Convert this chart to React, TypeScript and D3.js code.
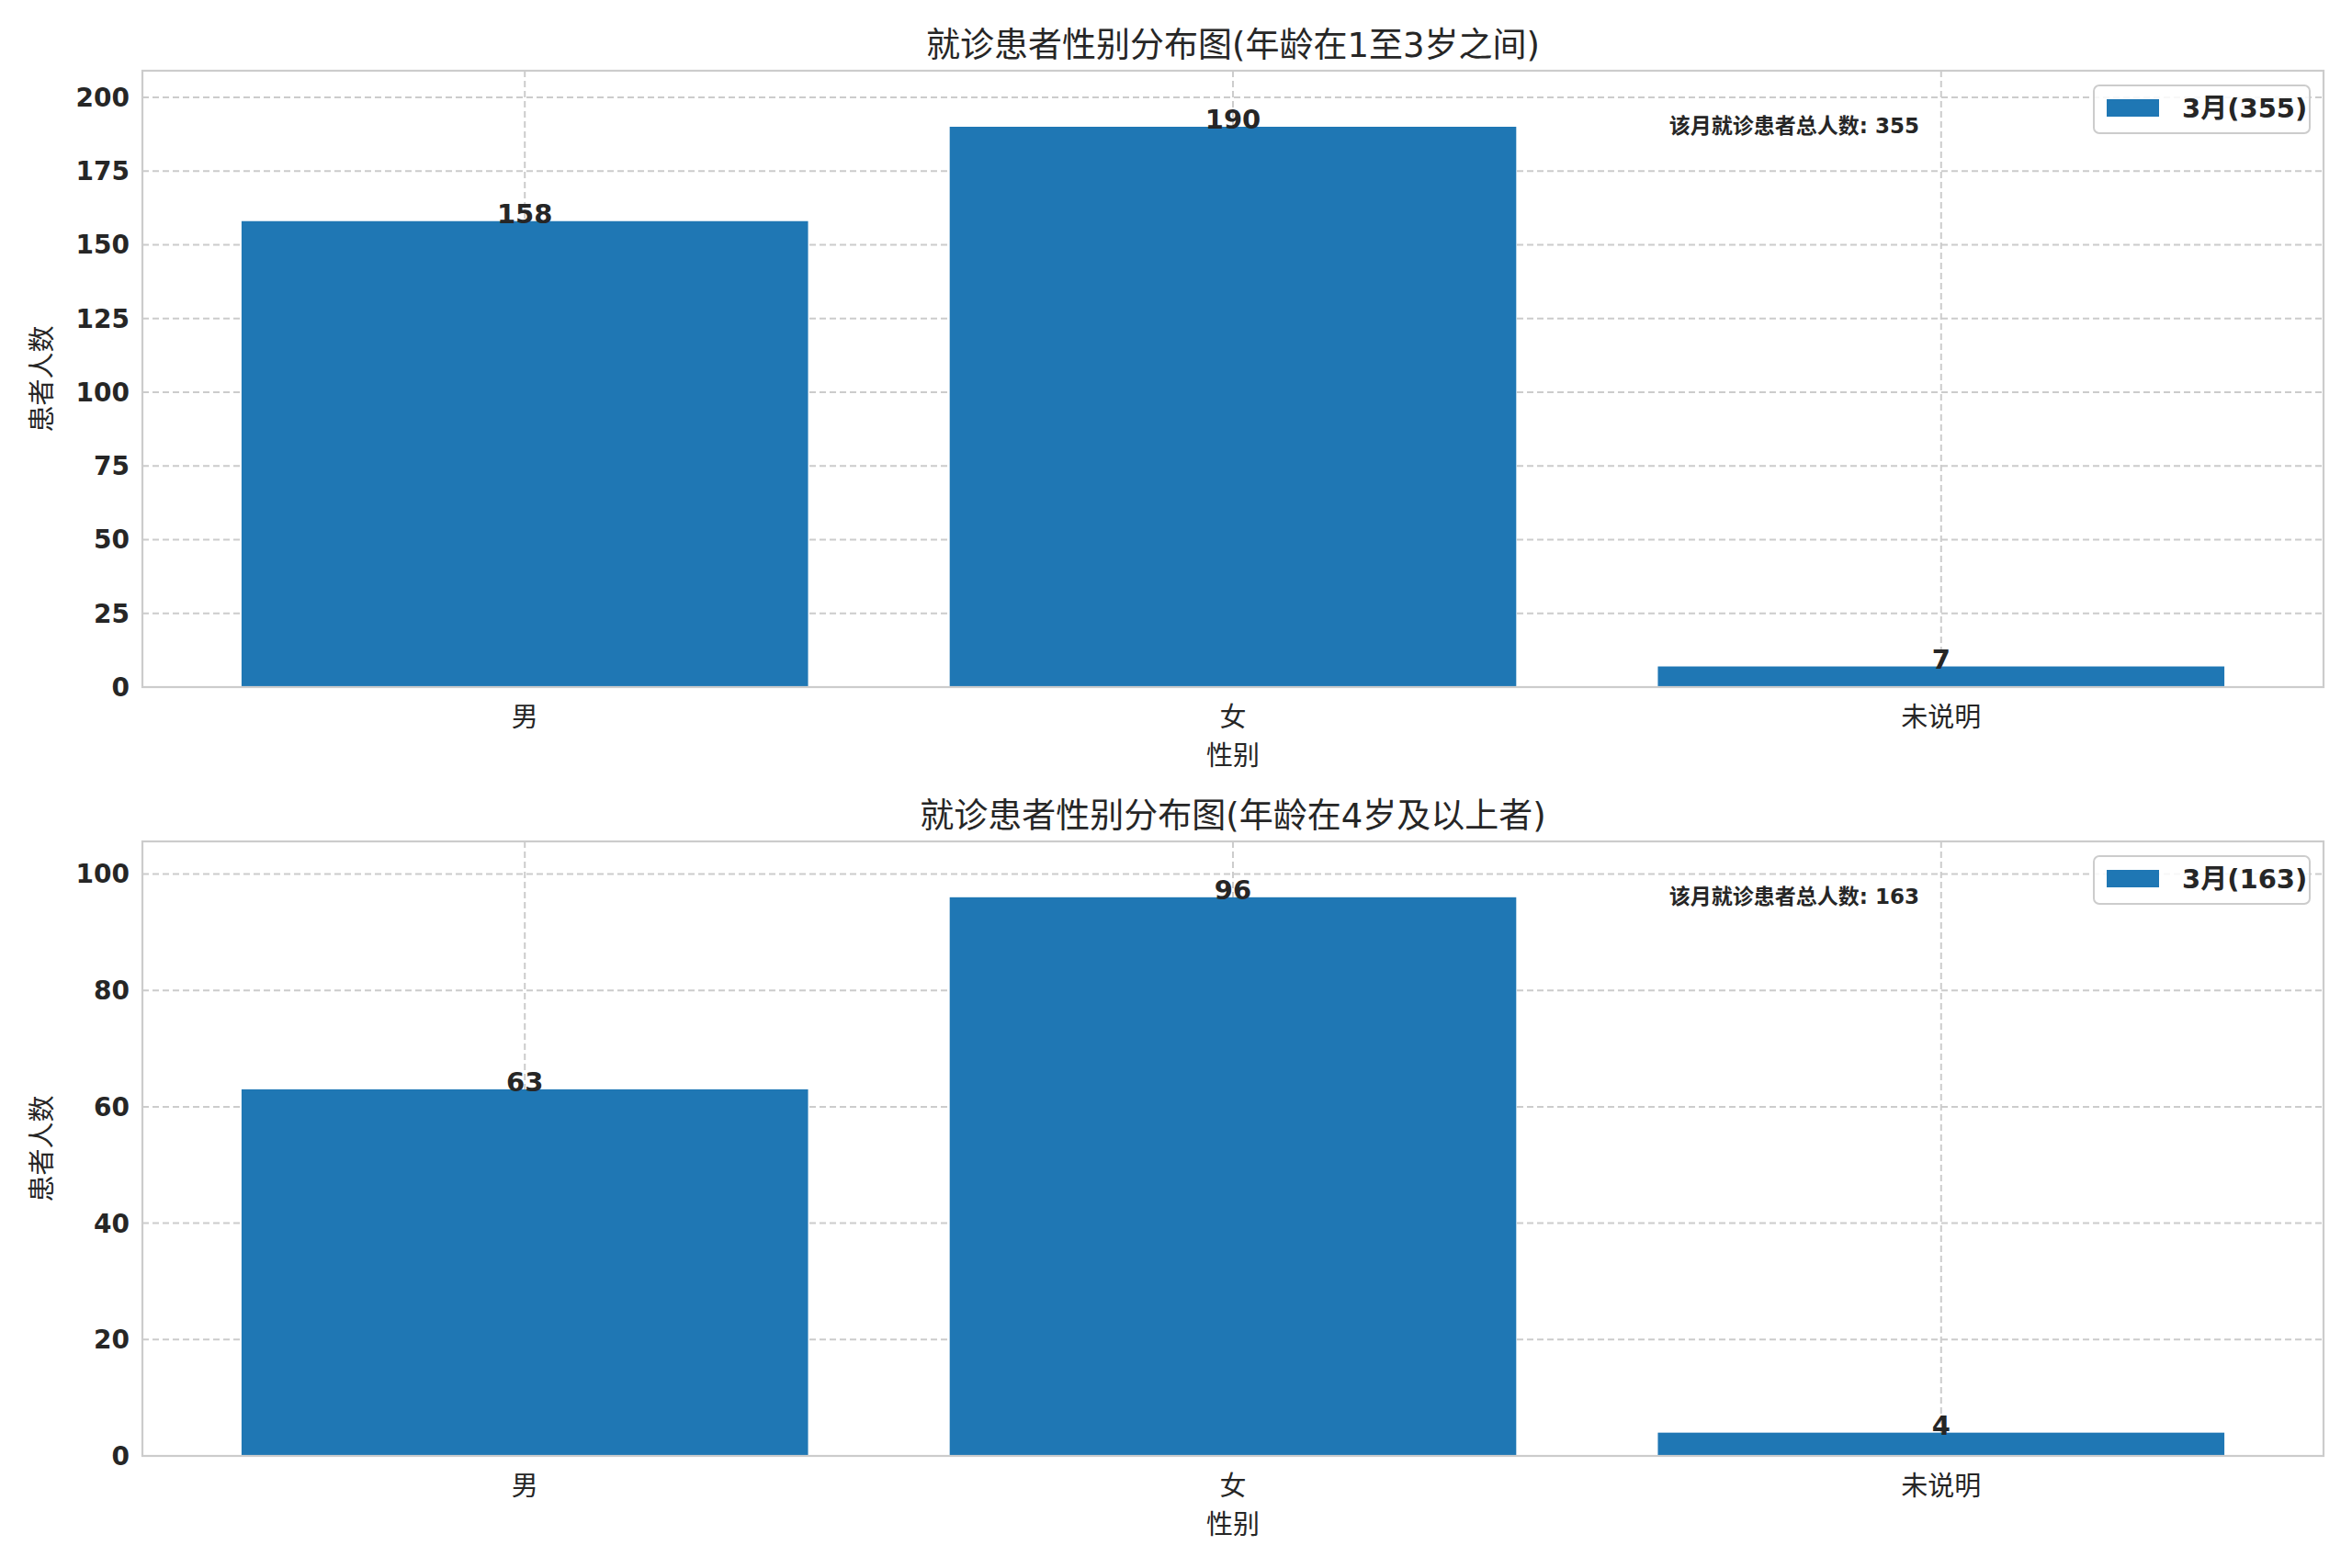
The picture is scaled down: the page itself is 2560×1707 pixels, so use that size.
import * as d3 from "d3"

// 数据
const categories = ["男", "女", "未说明"]
const countsAge1to3 = [158, 190, 7]
const countsAge4plus = [63, 96, 4]
const ticksAge1to3 = [0, 25, 50, 75, 100, 125, 150, 175, 200]
const ticksAge4plus = [0, 20, 40, 60, 80, 100]
const monthLabel = "3月"

const titles = ["就诊患者性别分布图(年龄在1至3岁之间)", "就诊患者性别分布图(年龄在4岁及以上者)"]
const xLabel = "性别"
const yLabel = "患者人数"
const totalLabel = "该月就诊患者总人数"

const W = 2560
const H = 1707
const FONT = "'DejaVu Sans', 'Noto Sans CJK SC', sans-serif"
const TEXT = "#262626"
const GRID = "#cccccc"
const BLUE = "#1f77b4"

type PanelProps = {
  title: string
  values: number[]
  ticks: number[]
  top: number
  bottom: number
}

function Panel({ title, values, ticks, top, bottom }: PanelProps) {
  const left = 155
  const right = 2529

  const x = d3.scaleLinear().domain([-0.54, categories.length - 1 + 0.54]).range([left, right])
  const bw = x(0.4) - x(-0.4)
  const y = d3
    .scaleLinear()
    .domain([0, (d3.max(values) || 0) * 1.1])
    .range([bottom, top])
  const total = d3.sum(values)

  return (
    <g fontFamily={FONT} fill={TEXT}>
      {/* 网格 */}
      {ticks.map((t) => (
        <line key={"h" + t} x1={left} x2={right} y1={y(t)} y2={y(t)} stroke={GRID} strokeWidth={2} strokeDasharray="7,4" />
      ))}
      {categories.map((c, i) => (
        <line key={"v" + c} x1={x(i)} x2={x(i)} y1={top} y2={bottom} stroke={GRID} strokeWidth={2} strokeDasharray="7,4" />
      ))}

      {/* 柱子 */}
      {values.map((v, i) => (
        <rect key={"b" + i} x={x(i) - bw / 2} y={y(v)} width={bw} height={bottom - y(v)} fill={BLUE} />
      ))}
      {values.map((v, i) => (
        <text key={"l" + i} x={x(i)} y={y(v) + 2} textAnchor="middle" fontSize={29} fontWeight="bold">
          {v}
        </text>
      ))}

      {/* 边框 */}
      <rect x={left} y={top} width={right - left} height={bottom - top} fill="none" stroke={GRID} strokeWidth={2.2} />

      {/* 坐标轴 */}
      {ticks.map((t) => (
        <text key={"yt" + t} x={left - 14} y={y(t) + 10} textAnchor="end" fontSize={28} fontWeight="bold">
          {t}
        </text>
      ))}
      {categories.map((c, i) => (
        <text key={"xt" + c} x={x(i)} y={bottom + 43} textAnchor="middle" fontSize={29}>
          {c}
        </text>
      ))}
      <text x={(left + right) / 2} y={bottom + 85} textAnchor="middle" fontSize={29}>
        {xLabel}
      </text>
      <text
        transform={`translate(56,${(top + bottom) / 2}) rotate(-90)`}
        textAnchor="middle"
        fontSize={29}
      >
        {yLabel}
      </text>
      <text x={(left + right) / 2} y={top - 15} textAnchor="middle" fontSize={37}>
        {title}
      </text>

      {/* 注释 */}
      <text x={left + 0.7 * (right - left)} y={top + 68} fontSize={23} fontWeight="bold">
        {totalLabel}: {total}
      </text>

      {/* 图例 */}
      <rect x={2279} y={top + 16} width={235} height={52} rx={6} fill="#ffffff" fillOpacity={0.85} stroke={GRID} strokeWidth={2} />
      <rect x={2293} y={top + 31} width={57} height={19} fill={BLUE} />
      <text x={2375} y={top + 51} fontSize={29} fontWeight="bold">
        {monthLabel}({total})
      </text>
    </g>
  )
}

export default function App() {
  return (
    <svg width={W} height={H} style={{ position: "absolute", left: 0, top: 0, background: "#fff" }}>
      <rect width={W} height={H} fill="#fff" />
      <Panel title={titles[0]} values={countsAge1to3} ticks={ticksAge1to3} top={77} bottom={748} />
      <Panel title={titles[1]} values={countsAge4plus} ticks={ticksAge4plus} top={916} bottom={1585} />
    </svg>
  )
}
